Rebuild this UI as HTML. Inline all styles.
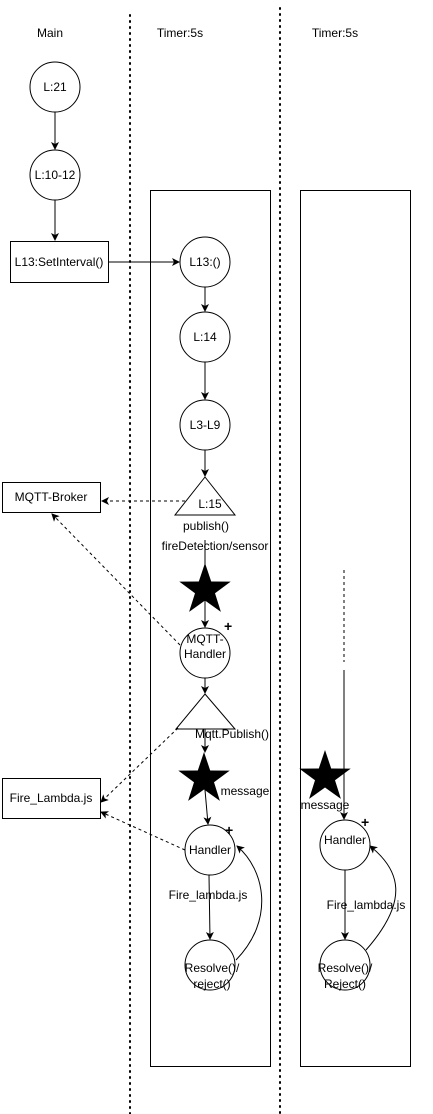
<!DOCTYPE html>
<html><head><meta charset="utf-8"><style>
html,body{margin:0;padding:0;background:#fff;}
svg{display:block;font-family:"Liberation Sans",sans-serif;font-size:12px;}
</style></head><body>
<svg width="433" height="1114" viewBox="0 0 433 1114" xmlns="http://www.w3.org/2000/svg">
<defs>
<marker id="a" markerWidth="8" markerHeight="8" refX="7" refY="4" orient="auto" markerUnits="userSpaceOnUse"><path d="M0,0 L8,4 L0,8 L2,4 Z" fill="#000"/></marker>
</defs>
<g stroke="#000" stroke-width="2" stroke-dasharray="1,5" stroke-linecap="round">
<line x1="130" y1="15" x2="130" y2="1114"/>
<line x1="280" y1="8" x2="280" y2="1114"/>
</g>
<g text-anchor="middle" fill="#000">
<text x="50" y="37">Main</text>
<text x="180" y="37">Timer:5s</text>
<text x="335" y="37">Timer:5s</text>
</g>
<g fill="none" stroke="#000" stroke-width="1">
<rect x="150.5" y="190.5" width="120" height="876"/>
<rect x="300.5" y="190.5" width="110" height="876"/>
<circle cx="55" cy="87" r="25" fill="#fff"/>
<circle cx="55" cy="175" r="25" fill="#fff"/>
<rect x="10.5" y="241.5" width="98" height="41" fill="#fff"/>
<circle cx="205" cy="262" r="25" fill="#fff"/>
<circle cx="205" cy="337" r="25" fill="#fff"/>
<circle cx="205" cy="425" r="25" fill="#fff"/>
<path d="M205,477 L235,515 L175,515 Z" fill="#fff"/>
<circle cx="205" cy="653" r="25" fill="#fff"/>
<path d="M205,694 L235,729 L176,729 Z" fill="#fff"/>
<circle cx="210" cy="850" r="25" fill="#fff"/>
<circle cx="210" cy="965" r="25" fill="#fff"/>
<circle cx="345" cy="845" r="25" fill="#fff"/>
<circle cx="345" cy="965" r="25" fill="#fff"/>
<rect x="2.5" y="482.5" width="98" height="30" fill="#fff"/>
<rect x="2.5" y="778.5" width="98" height="40" fill="#fff"/>
</g>
<g stroke="#000" stroke-width="1" fill="none" marker-end="url(#a)">
<line x1="55" y1="112" x2="55" y2="149"/>
<line x1="55" y1="200" x2="55" y2="240"/>
<line x1="109" y1="262" x2="179" y2="262"/>
<line x1="205" y1="287" x2="205" y2="311"/>
<line x1="205" y1="362" x2="205" y2="399"/>
<line x1="205" y1="450" x2="205" y2="476"/>
<line x1="205" y1="540" x2="205" y2="627"/>
<line x1="205" y1="678" x2="205" y2="693"/>
<line x1="205" y1="729" x2="205" y2="752"/>
<line x1="205" y1="790" x2="208" y2="824"/>
<line x1="209" y1="875" x2="210" y2="939"/>
<line x1="345" y1="870" x2="345" y2="939"/>
<line x1="344" y1="670" x2="344" y2="819"/>
<path d="M236,960 C275,920 265,870 237,846"/>
<path d="M366,950 C410,900 400,870 370,846"/>
</g>
<line x1="344" y1="570" x2="344" y2="662" stroke="#000" stroke-dasharray="3,3"/>
<g stroke="#000" stroke-width="1" fill="none" stroke-dasharray="3,3" marker-end="url(#a)">
<line x1="185" y1="501" x2="102" y2="501"/>
<line x1="180" y1="645" x2="52" y2="514"/>
<line x1="178" y1="728" x2="101" y2="802"/>
<line x1="185" y1="850" x2="101" y2="812"/>
</g>
<g fill="#000">
<path d="M205,563 L211.2,581.5 L230.7,581.6 L215,593.2 L220.9,611.9 L205,600.5 L189.1,611.9 L195,593.2 L179.3,581.6 L198.8,581.5 Z"/>
<path d="M204,752 L210.2,770.5 L229.7,770.6 L214,782.2 L219.9,800.9 L204,789.5 L188.1,800.9 L194,782.2 L178.3,770.6 L197.8,770.5 Z"/>
<path d="M325,750 L331.2,768.5 L350.7,768.6 L335,780.2 L340.9,798.9 L325,787.5 L309.1,798.9 L315,780.2 L299.3,768.6 L318.8,768.5 Z"/>
</g>
<g text-anchor="middle" fill="#000">
<text x="55" y="91">L:21</text>
<text x="55" y="179">L:10-12</text>
<text x="59" y="266">L13:SetInterval()</text>
<text x="205" y="266">L13:()</text>
<text x="205" y="341">L:14</text>
<text x="205" y="429">L3-L9</text>
<text x="210" y="508">L:15</text>
<text x="206" y="530">publish()</text>
<text x="215" y="550">fireDetection/sensor</text>
<text x="205" y="643">MQTT-</text>
<text x="205" y="658">Handler</text>
<text x="232" y="738">Mqtt.Publish()</text>
<text x="245" y="795">message</text>
<text x="210" y="854">Handler</text>
<text x="208" y="899">Fire_lambda.js</text>
<text x="212" y="972">Resolve()/</text>
<text x="212" y="988">reject()</text>
<text x="325" y="809">message</text>
<text x="345" y="844">Handler</text>
<text x="366" y="909">Fire_lambda.js</text>
<text x="345" y="972">Resolve()/</text>
<text x="345" y="988">Reject()</text>
<text x="51" y="501">MQTT-Broker</text>
<text x="51" y="802">Fire_Lambda.js</text>
</g>
<g font-weight="bold" font-size="14" fill="#000">
<text x="224" y="631">+</text>
<text x="225" y="835">+</text>
<text x="361" y="827">+</text>
</g>
</svg>
</body></html>
